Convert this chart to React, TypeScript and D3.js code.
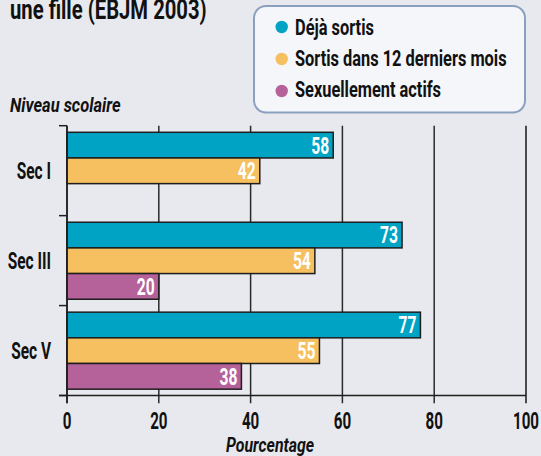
import React from "react";
import * as d3 from "d3";

const categories = ["Sec I", "Sec III", "Sec V"];
const seriesNames = ["Déjà sortis", "Sortis dans 12 derniers mois", "Sexuellement actifs"];
const dejaSortis = [58, 73, 77];
const sortis12Mois = [42, 54, 55];
const sexuellementActifs: (number | null)[] = [null, 20, 38];
const seriesColors = ["#00a3c3", "#f6bf5f", "#b5629b"];
const xTicks = [0, 20, 40, 60, 80, 100];
const titleText = "une fille (EBJM 2003)";
const yAxisTitle = "Niveau scolaire";
const xAxisTitle = "Pourcentage";

const W = 541;
const H = 456;
const FONT = "Roboto, 'Liberation Sans', sans-serif";

function T(props: {
  x: number; y: number; anchor?: string; size: number; italic?: boolean;
  fill?: string; children: React.ReactNode; sx: number;
}) {
  const { x, y, anchor = "start", size, italic, fill = "#111", children, sx } = props;
  return (
    <text
      transform={`translate(${x},${y}) scale(${sx},1)`}
      textAnchor={anchor}
      fontFamily={FONT}
      fontWeight="bold"
      fontStyle={italic ? "italic" : "normal"}
      fontSize={size}
      fill={fill}
    >
      {children}
    </text>
  );
}

export default function App() {
  const x = d3.scaleLinear().domain([0, 100]).range([67, 526]);
  const yGroup = d3.scaleBand<string>().domain(categories).range([125.7, 395.5]).padding(0);
  const ySeries = d3.scaleBand<number>().domain([0, 1, 2]).range([6.6, 83.6]).padding(0);
  const allSeries = [dejaSortis, sortis12Mois, sexuellementActifs];
  const yTop = yGroup.range()[0];
  const yBottom = yGroup.range()[1];
  const boundaries = [...categories.map((c) => yGroup(c) as number), yBottom];

  return (
    <svg
      width={W}
      height={H}
      style={{ position: "absolute", left: 0, top: 0, background: "#e8e9ee" }}
    >
      <rect x={0} y={0} width={W} height={H} fill="#e8e9ee" />
      {/* title */}
      <T x={10} y={18.5} size={27} sx={0.75}>{titleText}</T>
      {/* legend */}
      <rect x={254} y={6} width={271} height={106.5} rx={12} ry={12} fill="#f4f6fa" stroke="#8b9fc0" strokeWidth={2} />
      {seriesNames.map((name, i) => (
        <g key={name}>
          <circle cx={281.7} cy={27 + i * 32} r={6.2} fill={seriesColors[i]} />
          <T x={295} y={34.5 + i * 31} size={22} sx={0.745}>{name}</T>
        </g>
      ))}
      <T x={10} y={111.5} size={21} italic sx={0.785}>{yAxisTitle}</T>
      {/* gridlines */}
      {xTicks.map((t) => (
        <line
          key={t}
          x1={x(t)}
          x2={x(t)}
          y1={yTop}
          y2={403.3}
          stroke={t === 100 ? "#4a4a4a" : "#2a2a2a"}
          strokeWidth={t === 100 ? 2 : 1.5}
        />
      ))}
      {/* bars */}
      {categories.map((cat, ci) => (
        <g key={cat}>
          {allSeries.map((s, si) => {
            const v = s[ci];
            if (v == null) return null;
            const y0 = (yGroup(cat) as number) + (ySeries(si) as number);
            const h = ySeries.bandwidth();
            return (
              <g key={si}>
                <rect
                  x={x(0)}
                  y={y0}
                  width={x(v) - x(0)}
                  height={h}
                  fill={seriesColors[si]}
                  stroke="#1e1e1e"
                  strokeWidth={1.5}
                />
                <T x={x(v) - 4} y={y0 + h / 2 + 8.4} anchor="end" size={24.3} sx={0.645} fill="#ffffff">
                  {String(v)}
                </T>
              </g>
            );
          })}
        </g>
      ))}
      {/* axes */}
      <line x1={x(0)} x2={x(0)} y1={yTop} y2={403.3} stroke="#1e1e1e" strokeWidth={1.5} />
      <line x1={59} x2={x(100)} y1={yBottom} y2={yBottom} stroke="#1e1e1e" strokeWidth={1.5} />
      {boundaries.map((b, i) => (
        <line key={i} x1={59} x2={x(0)} y1={b} y2={b} stroke="#1e1e1e" strokeWidth={1.5} />
      ))}
      {categories.map((cat) => (
        <T key={cat} x={51} y={(yGroup(cat) as number) + yGroup.bandwidth() / 2 + 8.6} anchor="end" size={24.3} sx={0.636}>
          {cat}
        </T>
      ))}
      {xTicks.map((t) => (
        <T key={t} x={x(t)} y={428.5} anchor="middle" size={23.5} sx={0.644}>{String(t)}</T>
      ))}
      <T x={270} y={451.7} anchor="middle" size={21} italic sx={0.757}>{xAxisTitle}</T>
    </svg>
  );
}
